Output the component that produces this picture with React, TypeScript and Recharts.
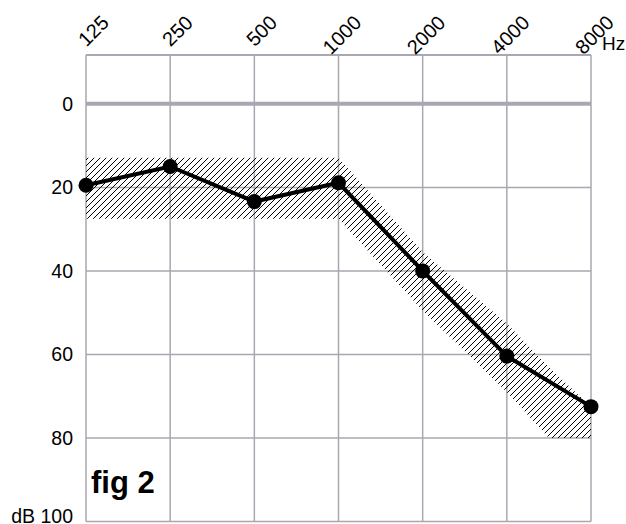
import { ComposedChart, Area, Line, XAxis, YAxis, CartesianGrid, ReferenceLine } from 'recharts'

const freqLabels = ['125', '250', '500', '1000', '2000', '4000', '8000']
const thresholds = [19.5, 15, 23.4, 18.9, 40, 60.4, 72.5]

// hatched normal range, positions in octave steps from 125 Hz
const bandPos = [0, 3, 4, 5, 5.5, 6]
const bandUpper = [12.9, 12.9, 35.5, 52.6, 63, 72.6]
const bandLower = [27.5, 27.5, 49.5, 69, 80, 80]

const dbTicks = [0, 20, 40, 60, 80, 100]

const GRID = '#a9a7b1'
const FONT = '"Liberation Sans", Arial, sans-serif'

const lineRows = thresholds.map((db, i) => ({ x: i, db }))
const bandRows = bandPos.map((x, i) => ({ x, band: [bandLower[i], bandUpper[i]] }))

const FreqTick = (props: any) => {
  const { x, payload } = props
  const ex = x + 24
  const ey = 24
  return (
    <text x={ex} y={ey} textAnchor="end" fontSize={20} fontFamily={FONT} fill="#000"
      transform={`rotate(-45, ${ex}, ${ey})`}>
      {freqLabels[payload.value]}
    </text>
  )
}

const DbTick = (props: any) => {
  const { y, payload } = props
  const last = payload.value === 100
  return (
    <text x={73} y={last ? y - 5 : y} dy="0.35em" textAnchor="end" fontSize={19.5} fontFamily={FONT} fill="#000">
      {last ? 'dB 100' : payload.value}
    </text>
  )
}

export default function App() {
  return (
    <div style={{ position: 'absolute', left: 0, top: 0 }}>
      <ComposedChart width={626} height={524} margin={{ top: 0, right: 35, bottom: 2.5, left: 0 }}>
        <defs>
          <pattern id="hatch" width="6" height="6" patternUnits="userSpaceOnUse">
            <path d="M-1,1 l2,-2 M0,6 l6,-6 M5,7 l2,-2" stroke="#000" strokeWidth="1" />
          </pattern>
        </defs>
        <CartesianGrid stroke={GRID} strokeWidth={1.5} />
        <XAxis
          type="number"
          dataKey="x"
          orientation="top"
          domain={[0, 6]}
          ticks={[0, 1, 2, 3, 4, 5, 6]}
          height={55}
          axisLine={false}
          tickLine={false}
          tick={<FreqTick />}
          interval={0}
        />
        <YAxis
          type="number"
          reversed
          domain={[-11.7, 100]}
          ticks={dbTicks}
          width={86}
          axisLine={false}
          tickLine={false}
          tick={<DbTick />}
          interval={0}
          allowDataOverflow
        />
        <ReferenceLine y={-11.7} stroke={GRID} strokeWidth={2} />
        <ReferenceLine y={0} stroke={GRID} strokeWidth={4} />
        <Area
          data={bandRows}
          dataKey="band"
          type="linear"
          stroke="none"
          fill="url(#hatch)"
          fillOpacity={1}
          isAnimationActive={false}
        />
        <Line
          data={lineRows}
          dataKey="db"
          type="linear"
          stroke="#000"
          strokeWidth={4}
          dot={{ r: 7.5, fill: '#000', stroke: '#000', strokeWidth: 0 }}
          isAnimationActive={false}
        />
        <text x={602} y={50} fontSize={19} fontFamily={FONT} fill="#000">Hz</text>
        <text x={91} y={493} fontSize={31} fontWeight="bold" fontFamily={FONT} fill="#000">fig 2</text>
      </ComposedChart>
    </div>
  )
}
